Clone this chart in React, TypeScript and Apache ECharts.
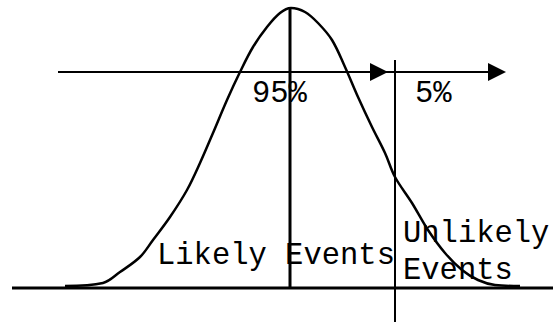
import React, { useEffect, useRef } from "react";
import * as echarts from "echarts";

// Bell curve sampled along the horizontal axis (height measured above the baseline)
const curveX = [65, 103, 120, 140, 153, 170, 187, 200, 213, 227, 240, 253, 267, 280, 291, 305, 318, 332, 345, 358, 372, 385, 395, 412, 428, 445, 462, 478, 495, 520];
const curveY = [2, 5, 16, 31, 48, 71, 98, 125, 155, 188, 216, 241, 261, 275, 280, 276, 265, 248, 221, 191, 161, 135, 111, 85, 58, 35, 18, 8, 3, 2];

// Reference lines
const baseline = { from: 12, to: 553, level: 0 };
const meanX = 290;
const meanTop = 280;
const cutoffX = 395;
const cutoffSpan = [-34, 228];
const arrowLevel = 216;
const arrowStart = 58;
const arrowTips = [388, 506];

// Annotation texts: [x, baseline height, text]
const labels: [number, number, string][] = [
  [252, 185, "95%"],
  [415, 185, "5%"],
  [157, 23, "Likely Events"],
  [403, 45, "Unlikely"],
  [403, 8, "Events"],
];

const INK = "#000";
const ARROW_SIZE = 18;
const FONT = "'Courier New', 'Liberation Mono', monospace";

export default function App() {
  const ref = useRef<HTMLDivElement>(null);

  useEffect(() => {
    if (!ref.current) return;
    const chart = echarts.init(ref.current, null, { renderer: "svg" });

    const seg = (data: number[][], width: number) => ({
      type: "line",
      data,
      showSymbol: false,
      silent: true,
      lineStyle: { color: INK, width },
      z: 2,
    });

    chart.setOption({
      animation: false,
      backgroundColor: "#fff",
      grid: { left: 0, right: 0, top: 0, bottom: 0 },
      xAxis: { type: "value", min: 0, max: 553, show: false },
      yAxis: { type: "value", min: -36, max: 288, show: false },
      series: [
        {
          type: "line",
          data: curveX.map((x, i) => [x, curveY[i]]),
          smooth: 0.35,
          showSymbol: false,
          silent: true,
          lineStyle: { color: INK, width: 2.5 },
          z: 3,
        },
        seg([[baseline.from, baseline.level], [baseline.to, baseline.level]], 3),
        seg([[meanX, 0], [meanX, meanTop]], 3),
        seg([[cutoffX, cutoffSpan[0]], [cutoffX, cutoffSpan[1]]], 2),
        seg([[arrowStart, arrowLevel], [arrowTips[1] - 4, arrowLevel]], 2),
        {
          type: "scatter",
          data: arrowTips.map((t) => [t - ARROW_SIZE / 2, arrowLevel]),
          symbol: "triangle",
          symbolRotate: -90,
          symbolSize: [ARROW_SIZE, ARROW_SIZE],
          itemStyle: { color: INK, opacity: 1 },
          silent: true,
          z: 4,
        },
        {
          type: "scatter",
          data: labels.map(([x, y, t]) => ({ value: [x, y], name: t })),
          symbolSize: 0,
          itemStyle: { opacity: 1 },
          silent: true,
          z: 5,
          label: {
            show: true,
            position: [0, 0],
            align: "left",
            verticalAlign: "bottom",
            formatter: (p: any) => p.name,
            color: INK,
            opacity: 1,
            fontFamily: FONT,
            fontSize: 30.5,
            lineHeight: 30,
            offset: [0, 6],
          },
        },
      ],
    });

    return () => chart.dispose();
  }, []);

  return (
    <div
      ref={ref}
      style={{ position: "absolute", left: 0, top: 0, width: 553, height: 324, background: "#fff" }}
    />
  );
}
